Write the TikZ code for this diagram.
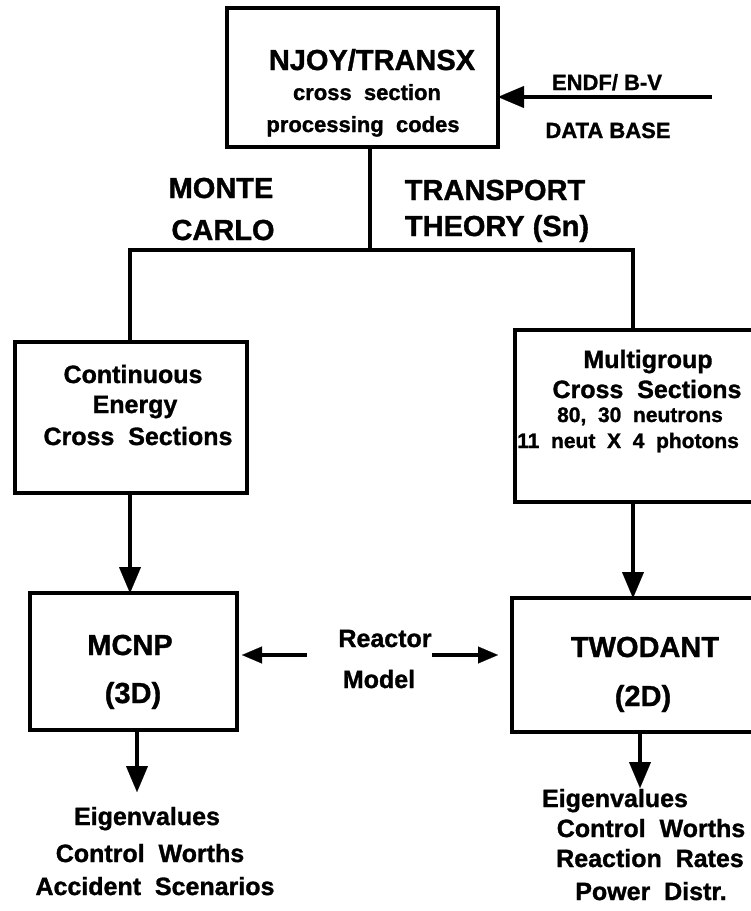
\documentclass[tikz,border=0pt]{standalone}
\usepackage{fontspec}
\setmainfont{Liberation Sans}[BoldFeatures={FakeBold=1.2}]
\usetikzlibrary{arrows.meta}
\tikzset{
  box/.style={draw, line width=4.5pt, inner sep=0pt, outer sep=0pt},
  conn/.style={line width=4pt},
  arr/.style={line width=4pt, -{Triangle[width=22pt,length=26pt,line width=0.1pt]}},
  arrs/.style={line width=3.5pt, -{Triangle[width=17pt,length=20pt,line width=0.1pt]}},
  big/.style={font=\fontsize{29}{29}\selectfont\bfseries, anchor=base, inner sep=0pt},
  med/.style={font=\fontsize{25}{25}\selectfont\bfseries, anchor=base, inner sep=0pt},
  sml/.style={font=\fontsize{22}{22}\selectfont\bfseries, anchor=base, inner sep=0pt},
  tiny/.style={font=\fontsize{21}{21}\selectfont\bfseries, anchor=base, inner sep=0pt},
}
\begin{document}
\begin{tikzpicture}[x=1pt,y=-1pt]
\useasboundingbox (0,0) rectangle (751,911);
\clip (0,0) rectangle (751,911);

% boxes
\node[box, minimum width=271pt, minimum height=139pt] (top) at (362.5,77.5) {};
\node[box, minimum width=232pt, minimum height=151pt] (cont) at (131,417.5) {};
\node[box, minimum width=260pt, minimum height=172pt] (multi) at (645,416) {};
\node[box, minimum width=207pt, minimum height=137pt] (mcnp) at (133.5,661.5) {};
\node[box, minimum width=263pt, minimum height=134pt] (two) at (643.5,665) {};

% texts in top box
\node[big] (t1) at (372,70) {NJOY/TRANSX};
\node[sml] (t2) at (367,100) {cross\ \ section};
\node[sml] (t3) at (363,132) {processing\ \ codes};

% ENDF
\node[sml] (endf1) at (607,90) {ENDF/ B-V};
\node[sml] (endf2) at (608,138) {DATA BASE};
\coordinate (endfsrc) at (712,97);
\draw[arr] (endfsrc) -- (endfsrc -| top.east);

% branch
\coordinate (j) at (370,250);
\coordinate (jl) at (130,250);
\coordinate (jr) at (633,250);
\draw[conn] (top.south -| j) -- (j);
\draw[conn, line cap=rect] (jl) -- (jr);
\draw[conn] (jl) -- (jl |- cont.north);
\draw[conn] (jr) -- (jr |- multi.north);

\node[big] (mc1) at (221,198) {MONTE};
\node[big] (mc2) at (223,240) {CARLO};
\node[big] (tt1) at (495,200) {TRANSPORT};
\node[big] (tt2) at (497,236) {THEORY (Sn)};

% continuous box
\node[med] (c1) at (133,383) {Continuous};
\node[med] (c2) at (135,413) {Energy};
\node[med] (c3) at (138,445) {Cross\ \ Sections};

% multigroup box
\node[med] (m1) at (648,368) {Multigroup};
\node[med] (m2) at (647,398) {Cross\ \ Sections};
\node[tiny] (m3) at (640,422) {80,\ \ 30\ \ neutrons};
\node[tiny, anchor=base west] (m4) at (517,448) {11\ \ neut\ \ X\ \ 4\ \ photons};

% arrows to codes
\draw[arr] (jl |- cont.south) -- (jl |- mcnp.north);
\draw[arr] (jr |- multi.south) -- (jr |- two.north);

% code boxes
\node[big] (n1) at (130,655) {MCNP};
\node[big] (n2) at (133,703) {(3D)};
\node[big] (w1) at (645,657) {TWODANT};
\node[big] (w2) at (643,706) {(2D)};

% reactor model
\node[med] (r1) at (385,647) {Reactor};
\node[med] (r2) at (379,688) {Model};
\coordinate (rl) at (307,655);
\coordinate (rr) at (432,655);
\draw[arrs, shorten >=5pt] (rl) -- (rl -| mcnp.east);
\draw[arrs, shorten >=14pt] (rr) -- (rr -| two.west);

% outputs
\coordinate (ol) at (137,792);
\coordinate (or) at (640,788);
\draw[arr] (ol |- mcnp.south) -- (ol);
\draw[arr] (or |- two.south) -- (or);

\node[med] (e1) at (147,825) {Eigenvalues};
\node[med] (e2) at (150,862) {Control\ \ Worths};
\node[med] (e3) at (155,895) {Accident\ \ Scenarios};

\node[med] (f1) at (615,807) {Eigenvalues};
\node[med] (f2) at (651,837) {Control\ \ Worths};
\node[med] (f3) at (650,867) {Reaction\ \ Rates};
\node[med] (f4) at (651,900) {Power\ \ Distr.};
\end{tikzpicture}
\end{document}
